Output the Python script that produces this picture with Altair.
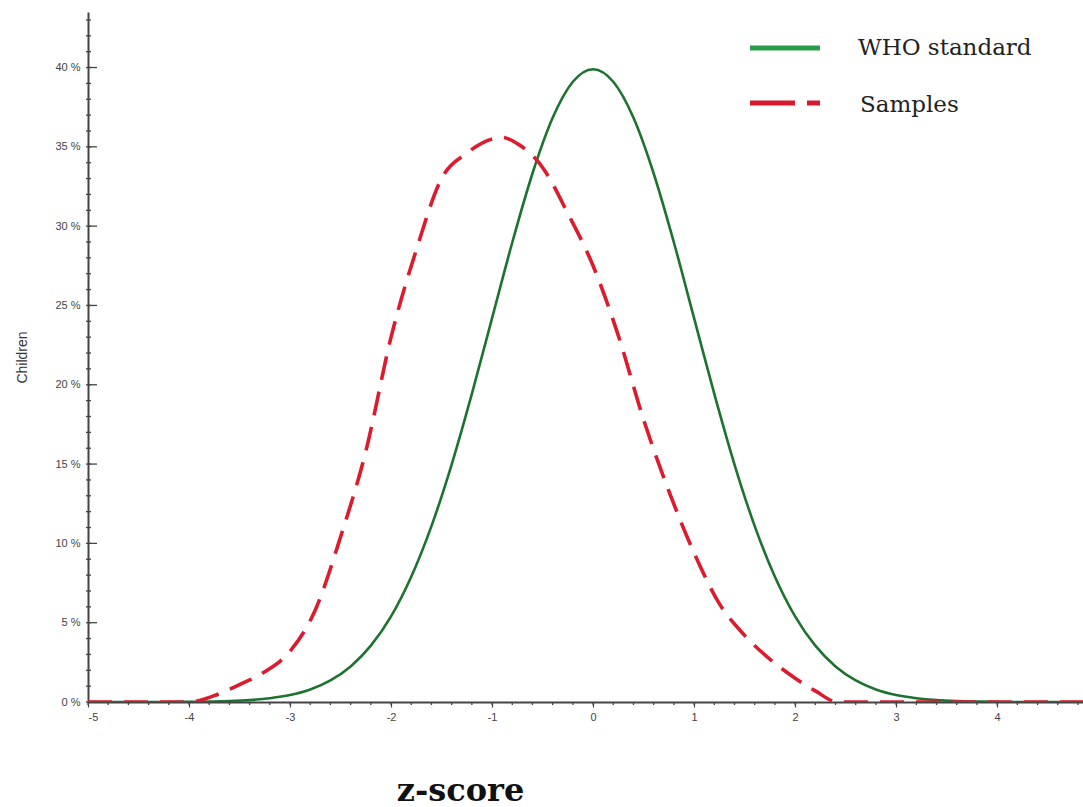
import altair as alt
import pandas as pd

# WHO standard curve (z-score, % children)
who_x = [-5.0, -4.8, -4.6, -4.4, -4.2, -4.0, -3.8, -3.6, -3.4, -3.2, -3.0, -2.8, -2.6, -2.4, -2.2,
         -2.0, -1.8, -1.6, -1.4, -1.2, -1.0, -0.8, -0.6, -0.4, -0.2, 0.0, 0.2, 0.4, 0.6, 0.8,
         1.0, 1.2, 1.4, 1.6, 1.8, 2.0, 2.2, 2.4, 2.6, 2.8, 3.0, 3.2, 3.4, 3.6, 3.8, 4.0, 4.2,
         4.4, 4.6, 4.85]
who_y = [0, 0, 0, 0, 0, 0.01, 0.03, 0.06, 0.12, 0.24, 0.44, 0.79, 1.36, 2.24, 3.55,
         5.40, 7.90, 11.09, 14.97, 19.42, 24.20, 28.97, 33.32, 36.83, 39.10, 39.89, 39.10, 36.83, 33.32, 28.97,
         24.20, 19.42, 14.97, 11.09, 7.90, 5.40, 3.55, 2.24, 1.36, 0.79, 0.44, 0.24, 0.12, 0.06, 0.03, 0.01, 0,
         0, 0, 0]

# Samples curve
smp_x = [-5.0, -4.0, -3.75, -3.5, -3.25, -3.0, -2.75, -2.5, -2.25, -2.0, -1.75, -1.5, -1.25,
         -1.0, -0.9, -0.75, -0.5, -0.25, 0.0, 0.25, 0.5, 0.75, 1.0, 1.25, 1.5, 1.75, 2.0, 2.2,
         2.42, 4.85]
smp_y = [0, 0, 0.4, 1.1, 1.9, 3.2, 5.8, 10.4, 15.8, 23.0, 28.5, 33.0, 34.6,
         35.5, 35.6, 35.2, 33.7, 30.8, 27.5, 23.1, 17.8, 13.3, 9.4, 6.2, 4.2, 2.7, 1.5, 0.7,
         0, 0]

x_ticks = [-5, -4, -3, -2, -1, 0, 1, 2, 3, 4]
y_ticks = [0, 5, 10, 15, 20, 25, 30, 35, 40]
x_minor = [round(-5 + 0.2 * i, 2) for i in range(50)]
y_minor = list(range(0, 44))

W, H = 995, 690
X_DOM = [-5, 4.85]
Y_DOM = [0, 43.5]

who = pd.DataFrame({"z": who_x, "pct": who_y})
smp = pd.DataFrame({"z": smp_x, "pct": smp_y})

xs = alt.Scale(domain=X_DOM, nice=False, zero=False)
ys = alt.Scale(domain=Y_DOM, nice=False)

label_font = "Liberation Sans"

x_axis = alt.Axis(values=x_ticks, labelExpr="toString(datum.value)", grid=False,
                  domainColor="#444", domainWidth=2,
                  tickColor="#444", tickSize=5, tickWidth=1.2, labelFont=label_font,
                  labelFontSize=11, labelColor="#444", labelPadding=4,
                  title="z-score", titleFont="DejaVu Serif", titleFontWeight="bold",
                  titleFontSize=32, titleColor="#111", titleX=372, titleY=98,
                  titleAlign="center", titleBaseline="alphabetic")
y_axis = alt.Axis(values=y_ticks, grid=False, ticks=False, domainColor="#444", domainWidth=2,
                  labelExpr="datum.value + ' %'", labelFont=label_font, labelFontSize=11,
                  labelColor="#444", labelPadding=8,
                  title="Children", titleFont=label_font, titleFontWeight="normal",
                  titleFontSize=14, titleColor="#333", titleX=-66, titleY=345,
                  titleAlign="center", titleBaseline="middle", titleAngle=270)

who_line = alt.Chart(who).mark_line(color="#1c7330", strokeWidth=2.6, interpolate="monotone",
                                    clip=True).encode(
    x=alt.X("z:Q", scale=xs, axis=x_axis),
    y=alt.Y("pct:Q", scale=ys, axis=y_axis),
)
smp_line = alt.Chart(smp).mark_line(color="#dc1c2e", strokeWidth=3.6, strokeDash=[24, 12],
                                    interpolate="monotone", clip=True).encode(
    x=alt.X("z:Q", scale=xs),
    y=alt.Y("pct:Q", scale=ys),
)

ymaj = alt.Chart(pd.DataFrame({"v": y_ticks})).mark_rule(color="#444", strokeWidth=1.3).encode(
    y=alt.Y("v:Q", scale=ys), x=alt.value(0), x2=alt.value(9))
ymin = alt.Chart(pd.DataFrame({"v": y_minor})).mark_rule(color="#444", strokeWidth=1.3).encode(
    y=alt.Y("v:Q", scale=ys), x=alt.value(-2), x2=alt.value(3))
xmin = alt.Chart(pd.DataFrame({"v": x_minor})).mark_rule(color="#444", strokeWidth=1.3).encode(
    x=alt.X("v:Q", scale=xs), y=alt.value(H), y2=alt.value(H + 3))

# legend
leg_labels = ["WHO standard", "Samples"]
leg_colors = ["#2a9d4c", "#d6192c"]
leg1 = alt.Chart(pd.DataFrame({"a": [0]})).mark_rule(color=leg_colors[0], strokeWidth=5).encode(
    x=alt.value(662), x2=alt.value(732), y=alt.value(36))
leg2 = alt.Chart(pd.DataFrame({"a": [0]})).mark_rule(color=leg_colors[1], strokeWidth=5,
                                                     strokeDash=[45, 12]).encode(
    x=alt.value(662), x2=alt.value(732), y=alt.value(91))
leg_t1 = alt.Chart(pd.DataFrame({"t": [leg_labels[0]]})).mark_text(
    align="left", baseline="middle", font="DejaVu Serif", fontSize=23, color="#222").encode(
    x=alt.value(770), y=alt.value(36), text="t:N")
leg_t2 = alt.Chart(pd.DataFrame({"t": [leg_labels[1]]})).mark_text(
    align="left", baseline="middle", font="DejaVu Serif", fontSize=23, color="#222").encode(
    x=alt.value(772), y=alt.value(93), text="t:N")

chart = alt.layer(ymin, ymaj, xmin, who_line, smp_line, leg1, leg2, leg_t1, leg_t2).properties(
    width=W, height=H,
    autosize=alt.AutoSizeParams(type="none"),
    padding={"left": 88, "top": 12, "right": 0, "bottom": 105},
    background="white",
).configure_view(stroke=None)

chart.save("out.html", embed_options={"renderer": "svg", "actions": False})
